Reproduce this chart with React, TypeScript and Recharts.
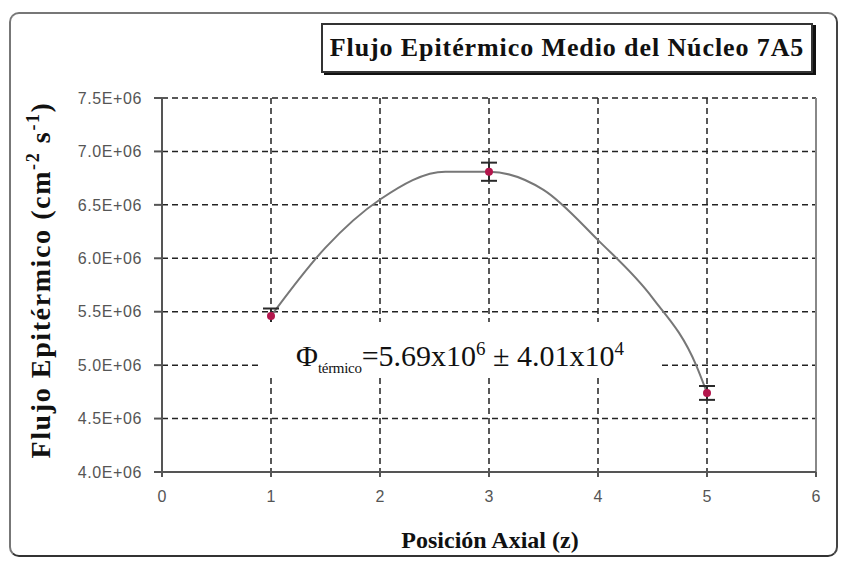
import React from "react";
import {
  ComposedChart,
  Line,
  Scatter,
  ErrorBar,
  XAxis,
  YAxis,
  CartesianGrid,
  ReferenceLine,
} from "recharts";

// medidas (z, flujo, error)
const posiciones = [1, 3, 5];
const flujos = [5.46e6, 6.81e6, 4.74e6];
const errores = [0.07e6, 0.085e6, 0.065e6];

// curva de ajuste
const curvaZ = [1, 1.5, 2, 2.6, 3, 3.5, 4, 4.5, 4.9, 5];
const curvaFlujo = [5.46e6, 6.1e6, 6.55e6, 6.81e6, 6.81e6, 6.64e6, 6.17e6, 5.63e6, 5.0e6, 4.74e6];

const xTicks = [0, 1, 2, 3, 4, 5, 6];
const yTicks = [4.0e6, 4.5e6, 5.0e6, 5.5e6, 6.0e6, 6.5e6, 7.0e6, 7.5e6];

const puntos = posiciones.map((x, i) => ({ x, y: flujos[i], err: errores[i] }));
const curva = curvaZ.map((x, i) => ({ x, y: curvaFlujo[i] }));

const fmtY = (v: number) => (v / 1e6).toFixed(1) + "E+06";

const serif = "'Liberation Serif', 'DejaVu Serif', serif";
const sans = "'Liberation Sans', Arial, sans-serif";

const Marker = (props: any) => {
  const { cx, cy } = props;
  return <circle cx={cx} cy={cy} r={4} fill="#b3164c" />;
};

export default function App() {
  return (
    <div style={{ position: "absolute", left: 0, top: 0, width: 843, height: 562, background: "#fff" }}>
      {/* marco exterior */}
      <div
        style={{
          position: "absolute",
          left: 9,
          top: 12,
          width: 829,
          height: 545,
          boxSizing: "border-box",
          border: "2px solid #777",
          borderRightColor: "#444",
          borderBottomColor: "#333",
          borderRadius: 10,
        }}
      />

      <div style={{ position: "absolute", left: 0, top: 0 }}>
        <ComposedChart width={843} height={562} margin={{ top: 98, right: 27, bottom: 60, left: 0 }}>
          <CartesianGrid stroke="#222" strokeDasharray="6 4" strokeWidth={1.5} />
          <XAxis
            dataKey="x"
            type="number"
            domain={[0, 6]}
            ticks={xTicks}
            allowDataOverflow
            stroke="#555"
            strokeWidth={2}
            tickSize={5}
            tickMargin={14}
            tick={{ fill: "#555", fontSize: 16, fontFamily: sans }}
          />
          <YAxis
            type="number"
            domain={[4.0e6, 7.5e6]}
            ticks={yTicks}
            tickFormatter={fmtY}
            width={162}
            stroke="#555"
            strokeWidth={2}
            tickSize={8}
            tickMargin={12}
            tick={{ fill: "#555", fontSize: 16, fontFamily: sans, letterSpacing: 0.6 }}
          />
          <ReferenceLine x={6} stroke="#888" strokeWidth={2} />
          <Line
            data={curva}
            dataKey="y"
            type="monotone"
            stroke="#777"
            strokeWidth={2}
            dot={false}
            activeDot={false}
            isAnimationActive={false}
          />
          <Scatter data={puntos} dataKey="y" fill="#b3164c" shape={Marker} isAnimationActive={false}>
            <ErrorBar dataKey="err" direction="y" width={8} stroke="#2a2a2a" strokeWidth={2} isAnimationActive={false} />
          </Scatter>
        </ComposedChart>
      </div>

      {/* titulo */}
      <div
        style={{
          position: "absolute",
          left: 321,
          top: 23,
          width: 492,
          height: 50,
          boxSizing: "border-box",
          border: "2px solid #333",
          boxShadow: "3px 2px 0 #111",
          background: "#fff",
          display: "flex",
          alignItems: "center",
          justifyContent: "center",
          fontFamily: serif,
          fontWeight: "bold",
          fontSize: 26,
          letterSpacing: 0.9,
          color: "#111",
          whiteSpace: "nowrap",
        }}
      >
        Flujo Epitérmico Medio del Núcleo 7A5
      </div>

      {/* titulo eje y */}
      <div
        style={{
          position: "absolute",
          left: 40,
          top: 280,
          transform: "translate(-50%, -50%) rotate(-90deg)",
          fontFamily: serif,
          fontWeight: "bold",
          fontSize: 28,
          letterSpacing: 1.6,
          color: "#111",
          whiteSpace: "nowrap",
        }}
      >
        Flujo Epitérmico (cm<sup style={{ fontSize: 18 }}>-2</sup> s<sup style={{ fontSize: 18 }}>-1</sup>)
      </div>

      {/* titulo eje x */}
      <div
        style={{
          position: "absolute",
          left: 490,
          top: 540,
          transform: "translate(-50%, -50%)",
          fontFamily: serif,
          fontWeight: "bold",
          fontSize: 24,
          color: "#111",
          whiteSpace: "nowrap",
        }}
      >
        Posición Axial (z)
      </div>

      {/* anotacion */}
      <div
        style={{
          position: "absolute",
          left: 262,
          top: 322,
          width: 396,
          height: 54,
          background: "#fff",
          fontFamily: serif,
          fontSize: 30,
          color: "#111",
          whiteSpace: "nowrap",
          textAlign: "center",
          lineHeight: "54px",
        }}
      >
        Φ<sub style={{ fontSize: 15, letterSpacing: -0.3 }}>térmico</sub>=5.69x10<sup style={{ fontSize: 19 }}>6</sup> ± 4.01x10<sup style={{ fontSize: 19 }}>4</sup>
      </div>
    </div>
  );
}
